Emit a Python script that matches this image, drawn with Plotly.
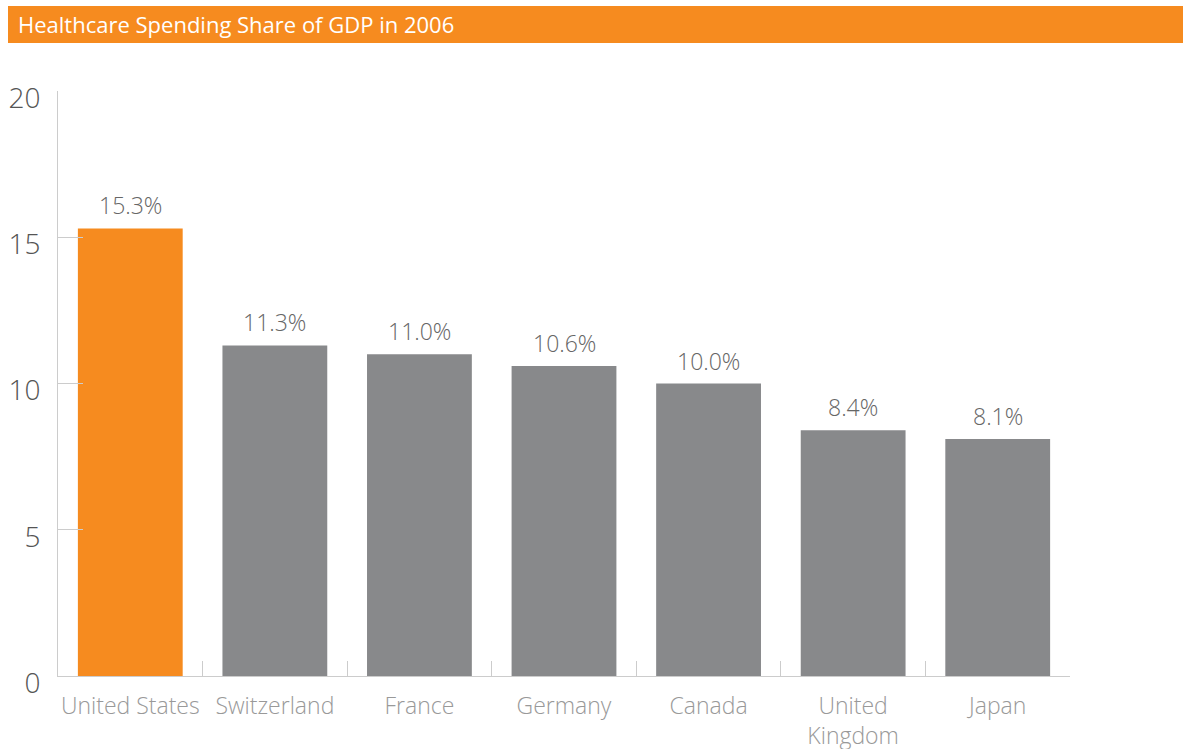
import plotly.graph_objects as go

countries = ["United States", "Switzerland", "France", "Germany", "Canada", "United<br>Kingdom", "Japan"]
shares = [15.3, 11.3, 11.0, 10.6, 10.0, 8.4, 8.1]
share_labels = ["15.3%", "11.3%", "11.0%", "10.6%", "10.0%", "8.4%", "8.1%"]
y_ticks = [0, 5, 10, 15, 20]
title_text = "Healthcare Spending Share of GDP in 2006"

ORANGE = "#F68B1F"
GRAY = "#88898B"
FONT = "Open Sans"

colors = [ORANGE] + [GRAY] * (len(countries) - 1)

fig = go.Figure()
fig.add_trace(go.Bar(
    x=countries, y=shares, marker=dict(color=colors, line=dict(width=0)),
    hoverinfo="skip", showlegend=False,
))

for c, v, t in zip(countries, shares, share_labels):
    fig.add_annotation(x=c, y=v, text=t, showarrow=False, yanchor="bottom",
                       yshift=5, font=dict(family=FONT, size=23, color="#666666", weight=300))

W, H = 1183, 749
L, R, T, B = 58, 113, 91, 73
pw, ph = W - L - R, H - T - B

def px_x(p):
    return (p - L) / pw

def px_y(p):
    return (H - B - p) / ph

fig.add_shape(type="rect", xref="paper", yref="paper",
              x0=px_x(8), x1=px_x(1183), y0=px_y(43), y1=px_y(6),
              fillcolor=ORANGE, line=dict(width=0), layer="above")
fig.add_annotation(xref="paper", yref="paper", x=px_x(16), y=px_y(24.5),
                   xanchor="left", yanchor="middle", text=title_text, showarrow=False,
                   font=dict(family=FONT, size=22, color="white"))

fig.update_layout(
    width=W, height=H,
    margin=dict(l=L, r=R, t=T, b=B, autoexpand=False),
    paper_bgcolor="white", plot_bgcolor="white",
    bargap=0.275,
    font=dict(family=FONT),
    xaxis=dict(
        type="category", tickson="boundaries", ticks="inside", ticklen=15,
        tickcolor="#CCCCCC", tickwidth=1, showline=True, linecolor="#CCCCCC",
        linewidth=1, showgrid=False, zeroline=False, tickangle=0,
        tickfont=dict(family=FONT, size=23, color="#999999", weight=300),
        ticklabelstandoff=9,
        range=[-0.5, len(countries) - 0.5], fixedrange=True,
    ),
    yaxis=dict(
        range=[0, 20], tickvals=y_ticks, ticks="inside", ticklen=25,
        tickcolor="#CCCCCC", tickwidth=1, showline=True, linecolor="#CCCCCC",
        linewidth=1, showgrid=False, zeroline=False,
        tickfont=dict(family=FONT, size=28, color="#555555", weight=300),
        ticklabelstandoff=11, ticklabelshift=7, fixedrange=True,
    ),
)

fig.write_html("out.html", config={"displayModeBar": False},
               post_script="document.body.style.margin='0';document.body.style.padding='0';")
